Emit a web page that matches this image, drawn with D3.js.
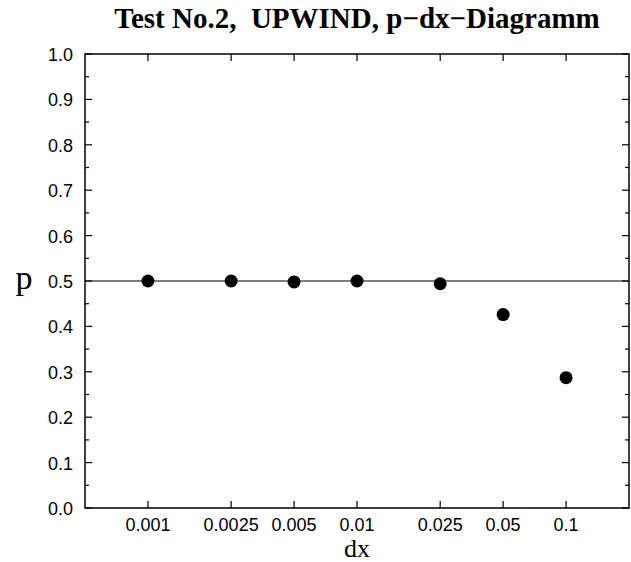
<!DOCTYPE html>
<html lang="en">
<head>
    <title>Test No.2, UPWIND, p-dx-Diagramm</title>
    <script src="https://d3js.org/d3.v7.min.js"></script>
    <style>
        body { margin: 0; background: white; }
        svg { display: block; }
        .tick-label { font-family: 'Liberation Sans', Arial, sans-serif; font-size: 18px; fill: black; }
        .title { font-family: 'Liberation Serif', 'Times New Roman', serif; font-weight: bold; font-size: 29px; white-space: pre; }
        .axis-label { font-family: 'Liberation Serif', 'Times New Roman', serif; }
    </style>
</head>
<body>
<svg id="chart"></svg>
<script>
    // data
    const dxValues = [0.001, 0.0025, 0.005, 0.01, 0.025, 0.05, 0.1];
    const pValues  = [0.5, 0.5, 0.498, 0.5, 0.494, 0.426, 0.287];
    const xTickLabels = ['0.001', '0.0025', '0.005', '0.01', '0.025', '0.05', '0.1'];
    const yTicks = [0, 0.1, 0.2, 0.3, 0.4, 0.5, 0.6, 0.7, 0.8, 0.9, 1.0];
    const yMinorTicks = [0.05, 0.15, 0.25, 0.35, 0.45, 0.55, 0.65, 0.75, 0.85, 0.95];
    const refLine = 0.5;

    const WIDTH = 631, HEIGHT = 562;
    const LEFT = 85, RIGHT = 629, TOP = 54, BOTTOM = 508;
    const MAJOR = 7, MINOR = 4;

    const svg = d3.select('#chart')
        .attr('width', WIDTH)
        .attr('height', HEIGHT);

    const x = d3.scaleLog().domain([0.0005, 0.2]).range([LEFT, RIGHT]);
    const y = d3.scaleLinear().domain([0, 1]).range([BOTTOM, TOP]);

    // title (two spaces after the comma, as in the original)
    svg.append('text')
        .attr('class', 'title')
        .attr('x', (LEFT + RIGHT) / 2)
        .attr('y', 28)
        .attr('text-anchor', 'middle')
        .text('Test No.2,  UPWIND, p\u2212dx\u2212Diagramm');

    // reference line at p = 0.5
    svg.append('line')
        .attr('x1', LEFT).attr('x2', RIGHT)
        .attr('y1', y(refLine)).attr('y2', y(refLine))
        .attr('stroke', 'black')
        .attr('stroke-width', 1.2);

    // ticks (pointing inward, on all four sides)
    const ticks = svg.append('g').attr('stroke', 'black').attr('stroke-width', 1.2);
    dxValues.forEach(d => {
        ticks.append('line').attr('x1', x(d)).attr('x2', x(d)).attr('y1', BOTTOM).attr('y2', BOTTOM - MAJOR);
        ticks.append('line').attr('x1', x(d)).attr('x2', x(d)).attr('y1', TOP).attr('y2', TOP + MAJOR);
    });
    yTicks.forEach(d => {
        ticks.append('line').attr('x1', LEFT).attr('x2', LEFT + MAJOR).attr('y1', y(d)).attr('y2', y(d));
        ticks.append('line').attr('x1', RIGHT).attr('x2', RIGHT - MAJOR).attr('y1', y(d)).attr('y2', y(d));
    });
    yMinorTicks.forEach(d => {
        ticks.append('line').attr('x1', LEFT).attr('x2', LEFT + MINOR).attr('y1', y(d)).attr('y2', y(d));
        ticks.append('line').attr('x1', RIGHT).attr('x2', RIGHT - MINOR).attr('y1', y(d)).attr('y2', y(d));
    });

    // frame
    svg.append('rect')
        .attr('x', LEFT).attr('y', TOP)
        .attr('width', RIGHT - LEFT).attr('height', BOTTOM - TOP)
        .attr('fill', 'none')
        .attr('stroke', 'black')
        .attr('stroke-width', 1.5);

    // tick labels
    svg.append('g').selectAll('text')
        .data(dxValues)
        .join('text')
        .attr('class', 'tick-label')
        .attr('x', d => x(d))
        .attr('y', BOTTOM + 23)
        .attr('text-anchor', 'middle')
        .text((d, i) => xTickLabels[i]);

    svg.append('g').selectAll('text')
        .data(yTicks)
        .join('text')
        .attr('class', 'tick-label')
        .attr('x', LEFT - 12)
        .attr('y', d => y(d) + 7)
        .attr('text-anchor', 'end')
        .text(d => d.toFixed(1));

    // axis labels
    svg.append('text')
        .attr('class', 'axis-label')
        .attr('x', 24)
        .attr('y', y(0.5) + 8)
        .attr('text-anchor', 'middle')
        .style('font-size', '34px')
        .text('p');

    svg.append('text')
        .attr('class', 'axis-label')
        .attr('x', (LEFT + RIGHT) / 2)
        .attr('y', 557)
        .attr('text-anchor', 'middle')
        .style('font-size', '26px')
        .text('dx');

    // data points
    svg.append('g').selectAll('circle')
        .data(dxValues)
        .join('circle')
        .attr('cx', d => x(d))
        .attr('cy', (d, i) => y(pValues[i]))
        .attr('r', 6.5)
        .attr('fill', 'black');
</script>
</body>
</html>
